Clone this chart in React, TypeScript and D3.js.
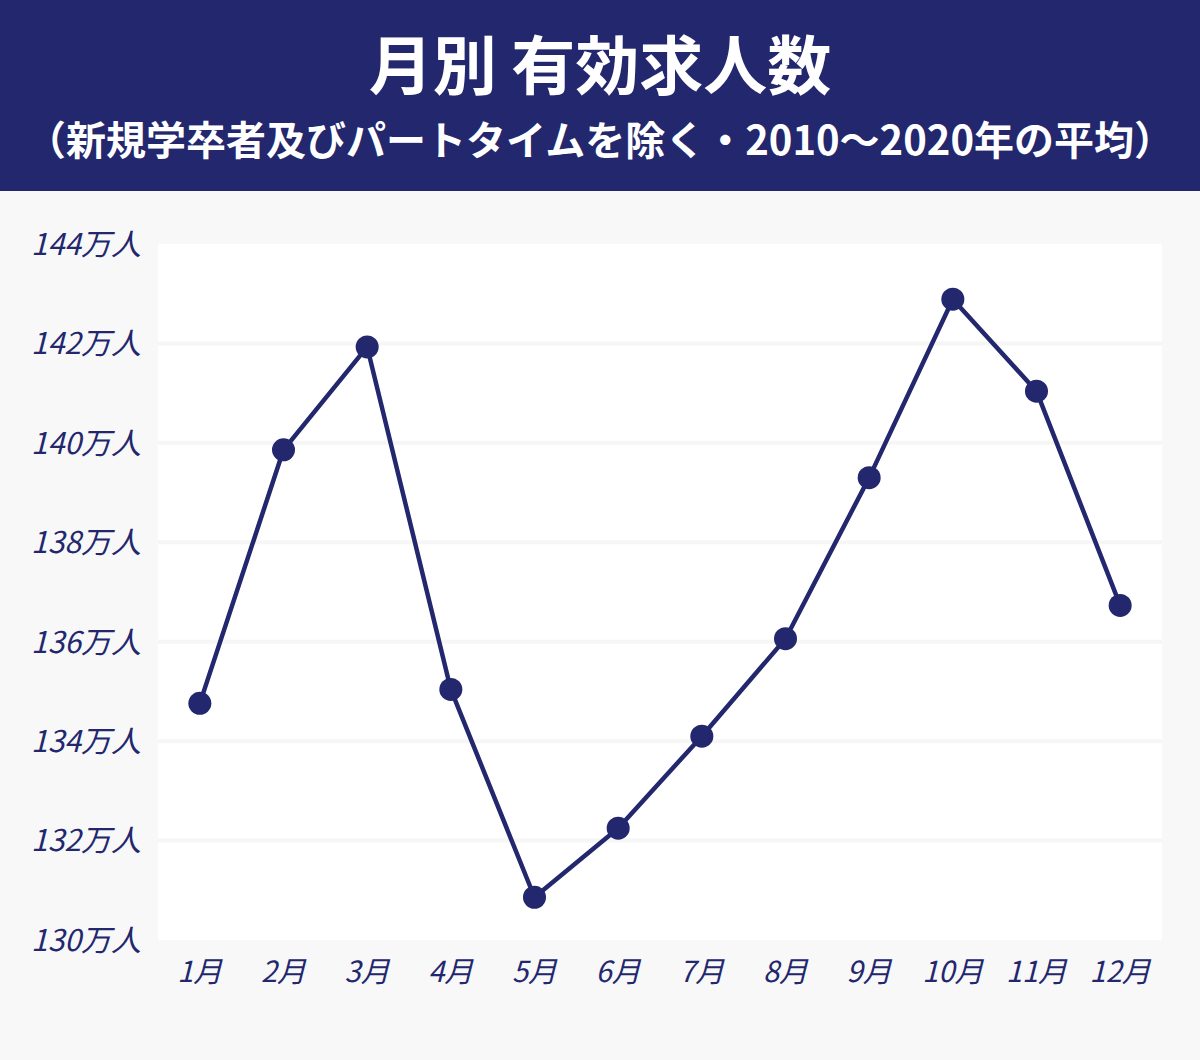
import * as d3 from "d3";

const months = ["1月", "2月", "3月", "4月", "5月", "6月", "7月", "8月", "9月", "10月", "11月", "12月"];
const jobOffers = [134.76, 139.86, 141.93, 135.04, 130.86, 132.25, 134.1, 136.06, 139.3, 142.89, 141.04, 136.73];
const yTicks = [130, 132, 134, 136, 138, 140, 142, 144];
const title = "月別 有効求人数";
const subtitle = "（新規学卒者及びパートタイムを除く・2010～2020年の平均）";

const width = 1200;
const height = 1060;
const navy = "#22276e";
const margin = { top: 244, right: 38, bottom: 120, left: 158 };
const font = "'Noto Sans CJK JP', 'Noto Sans', sans-serif";

export default function App() {
  const x = d3
    .scaleBand()
    .domain(months)
    .range([margin.left, width - margin.right]);

  const y = d3
    .scaleLinear()
    .domain([130, 144])
    .range([height - margin.bottom, margin.top]);

  const cx = (i: number) => (x(months[i]) ?? 0) + x.bandwidth() / 2;

  const line = d3
    .line<number>()
    .x((_, i) => cx(i))
    .y((d) => y(d));

  return (
    <div style={{ position: "absolute", left: 0, top: 0 }}>
      <svg width={width} height={height} style={{ display: "block" }}>
        <rect x={0} y={0} width={width} height={height} fill="#f8f8f8" />
        <rect x={0} y={0} width={width} height={191} fill={navy} />
        <text
          x={width / 2}
          y={89}
          textAnchor="middle"
          fill="#fff"
          fontFamily={font}
          fontWeight={700}
          fontSize={64}
        >
          {title}
        </text>
        <text
          x={width / 2}
          y={155}
          textAnchor="middle"
          fill="#fff"
          fontFamily={font}
          fontWeight={700}
          fontSize={40}
        >
          {subtitle}
        </text>

        {/* plot area */}
        <rect
          x={margin.left}
          y={margin.top}
          width={width - margin.left - margin.right}
          height={height - margin.top - margin.bottom}
          fill="#fff"
        />
        {yTicks.slice(1, -1).map((t) => (
          <line
            key={t}
            x1={margin.left}
            x2={width - margin.right}
            y1={y(t)}
            y2={y(t)}
            stroke="#f6f6f6"
            strokeWidth={4}
          />
        ))}

        {yTicks.map((t) => (
          <text
            key={t}
            x={141}
            y={y(t)}
            dy="0.36em"
            textAnchor="end"
            fill={navy}
            fontFamily={font}
            fontStyle="italic"
            fontSize={30}
          >
            {t}万人
          </text>
        ))}

        {months.map((m, i) => (
          <text
            key={m}
            x={cx(i)}
            y={972}
            dy="0.36em"
            textAnchor="middle"
            fill={navy}
            fontFamily={font}
            fontStyle="italic"
            fontSize={29}
          >
            {m}
          </text>
        ))}

        <path d={line(jobOffers) ?? ""} fill="none" stroke={navy} strokeWidth={4.5} strokeLinejoin="round" />
        {jobOffers.map((v, i) => (
          <circle key={months[i]} cx={cx(i)} cy={y(v)} r={11.5} fill={navy} />
        ))}
      </svg>
    </div>
  );
}
